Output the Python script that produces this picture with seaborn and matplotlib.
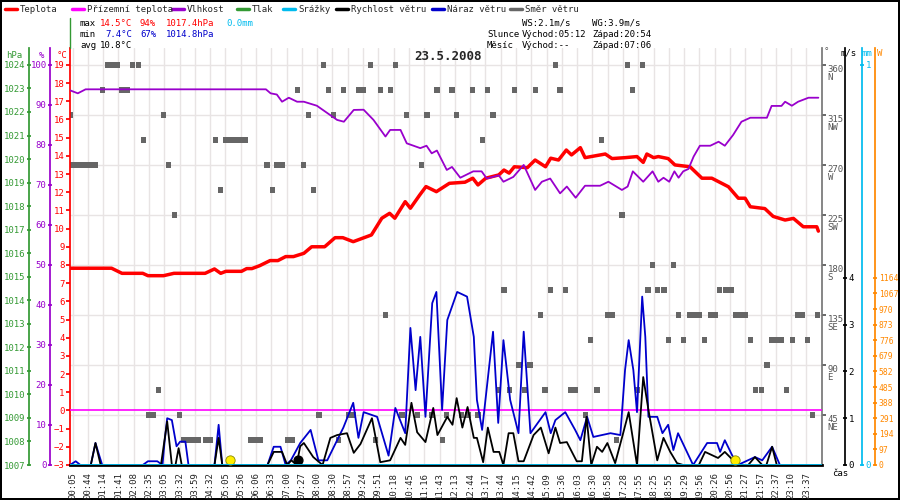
import matplotlib
matplotlib.use('Agg')
import matplotlib.pyplot as plt
from matplotlib.lines import Line2D
import seaborn as sns
import numpy as np

# ---- data (minutes since midnight) ----
temp_t = [1, 80, 100, 140, 150, 180, 200, 260, 278, 290, 300, 330, 340, 350, 365, 385, 400, 415, 430, 450,
          465, 490, 510, 525, 545, 580, 600, 615, 625, 645, 655, 673, 685, 705, 730, 760, 775, 785, 800, 825,
          835, 845, 855, 880, 895, 915, 925, 940, 955, 965, 982, 991, 1030, 1043, 1068, 1091, 1103, 1110, 1123,
          1132, 1151, 1164, 1193, 1216, 1235, 1267, 1286, 1299, 1309, 1337, 1353, 1376, 1392, 1411, 1437, 1440]
temp_v = [7.82, 7.82, 7.54, 7.54, 7.41, 7.41, 7.54, 7.54, 7.78, 7.54, 7.65, 7.65, 7.8, 7.8, 7.96, 8.24, 8.24,
          8.46, 8.46, 8.64, 9.0, 9.0, 9.5, 9.5, 9.28, 9.65, 10.57, 10.84, 10.57, 11.48, 11.12, 11.85, 12.31,
          12.03, 12.49, 12.55, 12.77, 12.4, 12.77, 12.95, 13.22, 13.05, 13.4, 13.35, 13.77, 13.4, 13.87, 13.77,
          14.32, 14.05, 14.45, 13.9, 14.1, 13.85, 13.9, 13.96, 13.64, 14.1, 13.9, 13.96, 13.85, 13.5, 13.4,
          12.77, 12.77, 12.3, 11.67, 11.67, 11.2, 11.1, 10.67, 10.47, 10.56, 10.1, 10.1, 9.86]

hum_t = [1, 15, 30, 377, 386, 398, 408, 421, 437, 450, 475, 514, 527, 546, 565, 584, 607, 616, 636, 648, 674,
         686, 696, 706, 725, 735, 751, 776, 792, 802, 825, 834, 853, 873, 895, 908, 924, 943, 956, 973, 991,
         1020, 1036, 1062, 1073, 1083, 1103, 1121, 1132, 1142, 1153, 1163, 1171, 1180, 1190, 1200, 1212, 1232,
         1248, 1260, 1276, 1292, 1309, 1341, 1350, 1369, 1376, 1389, 1401, 1421, 1440]
hum_v = [93.6, 92.9, 93.9, 93.9, 92.9, 92.6, 90.8, 91.8, 90.8, 90.8, 89.8, 86.25, 85.8, 88.75, 88.8, 86.25,
         82.1, 83.75, 83.75, 80.4, 79.2, 79.8, 77.9, 78.6, 73.75, 74.5, 71.8, 73.4, 73.4, 71.6, 72.4, 70.8,
         72.0, 75.0, 68.75, 70.8, 71.6, 67.9, 69.6, 66.8, 69.8, 69.8, 70.8, 68.75, 69.6, 73.4, 70.8, 73.4,
         70.8, 71.8, 70.8, 73.4, 71.8, 73.4, 74.0, 77.1, 79.8, 79.8, 80.8, 79.8, 82.5, 85.8, 86.8, 86.8, 89.75,
         89.75, 90.8, 89.8, 90.8, 91.8, 91.8]

speed_t = [0, 40, 49, 59, 175, 187, 196, 203, 209, 215, 278, 286, 293, 380, 392, 408, 418, 426, 436, 443, 450,
           468, 486, 501, 514, 533, 546, 559, 581, 597, 616, 636, 645, 657, 668, 684, 699, 707, 726, 736, 744,
           755, 765, 777, 783, 795, 804, 815, 826, 834, 844, 853, 863, 873, 892, 906, 921, 934, 943, 956, 975,
           985, 994, 1003, 1014, 1024, 1034, 1049, 1062, 1075, 1091, 1103, 1113, 1130, 1142, 1155, 1168, 1180,
           1210, 1222, 1247, 1260, 1276, 1285, 1305, 1318, 1332, 1340, 1351, 1360, 1440]
speed_v = [0, 0, 0.47, 0, 0, 0.93, 0, 0, 0.36, 0, 0, 0.58, 0, 0, 0.28, 0.28, 0, 0.1, 0, 0.4, 0.47, 0.17, 0,
           0.58, 0.64, 0.68, 0.26, 0.45, 1.0, 0.06, 0.1, 0.58, 0.43, 1.33, 0.7, 0.49, 1.22, 0.64, 1.03, 0.86,
           1.43, 0.8, 1.24, 0.58, 0.58, 0.06, 0.8, 0.28, 0.28, 0, 0.68, 0.68, 0.08, 0.08, 0.64, 0.8, 0.25, 0.8,
           0.47, 0.49, 0.08, 0.08, 1.03, 0, 0.39, 0.28, 0.47, 0.04, 0.58, 1.13, 0, 1.88, 1.18, 0.1, 0.58, 0.28,
           0.04, 0, 0, 0.28, 0.15, 0.28, 0.1, 0, 0, 0.17, 0, 0, 0.39, 0, 0]

gust_t = [0, 11, 20, 40, 49, 55, 62, 140, 150, 168, 178, 182, 187, 196, 205, 212, 222, 228, 278, 286, 293, 380,
          392, 405, 415, 425, 443, 463, 478, 495, 526, 545, 555, 565, 591, 613, 626, 645, 655, 665, 674, 684,
          697, 705, 716, 726, 745, 764, 777, 783, 793, 814, 824, 834, 847, 863, 873, 886, 915, 925, 934, 953,
          972, 982, 995, 1007, 1040, 1059, 1068, 1075, 1084, 1091, 1101, 1107, 1113, 1130, 1140, 1151, 1161,
          1170, 1199, 1226, 1245, 1251, 1260, 1274, 1285, 1318, 1332, 1351, 1366, 1440]
gust_v = [0, 0.08, 0, 0, 0.47, 0.25, 0, 0, 0.08, 0.08, 0, 0.5, 1.0, 0.96, 0.4, 0.5, 0.5, 0, 0, 0.86, 0, 0, 0.39,
          0.39, 0, 0.1, 0.47, 0.75, 0.1, 0.1, 0.8, 1.33, 0.58, 1.13, 1.03, 0.2, 1.22, 0.68, 2.93, 1.6, 2.74,
          1.03, 3.46, 3.7, 1.18, 3.1, 3.7, 3.6, 2.74, 1.39, 0.75, 2.85, 0.9, 2.67, 1.39, 0.68, 2.85, 0.68, 1.13,
          0.68, 0.96, 1.13, 0.75, 0.53, 1.03, 0.6, 0.68, 0.64, 2.03, 2.67, 2.03, 1.13, 3.6, 2.74, 1.03, 1.03,
          0.68, 0.86, 0.32, 0.68, 0, 0.47, 0.47, 0.28, 0.53, 0.21, 0, 0.17, 0.1, 0.39, 0, 0]

dir_t = [1, 4, 11, 20, 30, 39, 49, 62, 72, 81, 91, 100, 110, 120, 132, 142, 152, 161, 171, 180, 190, 201, 211,
         219, 229, 238, 248, 261, 270, 280, 289, 299, 309, 318, 328, 338, 347, 357, 366, 379, 389, 398, 408,
         418, 427, 437, 450, 459, 469, 479, 488, 498, 507, 517, 527, 536, 546, 555, 565, 578, 588, 597, 607,
         616, 626, 639, 648, 668, 677, 687, 696, 706, 716, 725,
         735, 744, 754, 766, 775, 785, 794, 804, 814, 825, 835, 845, 855, 864, 874, 885, 895, 905, 914, 924,
         934, 943, 954, 964, 973, 992, 1002, 1014, 1023, 1034, 1043, 1052, 1062, 1073, 1083, 1092, 1102,
         1112, 1121, 1131, 1143, 1152, 1162, 1171, 1181, 1192, 1202, 1212, 1221, 1232, 1241, 1250, 1261,
         1272, 1281, 1291, 1300, 1310, 1319, 1331, 1341, 1350, 1360, 1369, 1379, 1391, 1400, 1410, 1419,
         1429, 1439]
dir_v = [315, 270, 270, 270, 270, 270, 270, 337.5, 360, 360, 360, 337.5, 337.5, 360, 360, 292.5, 45, 45, 67.5,
         315, 270, 225, 45, 22.5, 22.5, 22.5, 22.5, 22.5, 22.5, 292.5, 247.5, 292.5, 292.5, 292.5, 292.5,
         292.5, 22.5, 22.5, 22.5, 270, 247.5, 270, 270, 22.5, 22.5, 337.5, 270, 315, 247.5, 45, 360, 337.5,
         315, 22.5, 337.5, 45, 45, 337.5, 337.5, 360, 22.5, 337.5, 135, 337.5, 360, 45, 315, 45, 270, 315,
         45, 337.5, 22.5, 45,
         337.5, 315, 45, 45, 337.5, 45, 292.5, 337.5, 315, 67.5, 157.5, 67.5, 337.5, 90, 67.5, 90, 337.5,
         135, 67.5, 157.5, 360, 337.5, 157.5, 67.5, 67.5, 45, 112.5, 67.5, 292.5, 135, 135, 22.5, 225, 360,
         337.5, 67.5, 360, 157.5, 180, 157.5, 157.5, 112.5, 180, 135, 112.5, 135, 135, 135, 112.5, 135, 135,
         157.5, 157.5, 157.5, 135, 135, 135, 112.5, 67.5, 67.5, 90, 112.5, 112.5, 112.5, 67.5, 112.5, 135,
         135, 112.5, 45, 135]

sun_t = [307, 1280]
moon_t = [438]

tick_labels = ['00:05', '00:44', '01:14', '01:41', '02:08', '02:35', '03:05', '03:32', '03:59', '04:32',
               '05:05', '05:36', '06:06', '06:33', '07:00', '07:27', '08:00', '08:30', '08:57', '09:24',
               '09:51', '10:18', '10:45', '11:16', '11:43', '12:13', '12:44', '13:17', '13:44', '14:15',
               '14:42', '15:09', '15:36', '16:03', '16:30', '16:58', '17:28', '17:55', '18:25', '18:55',
               '19:29', '19:56', '20:26', '20:56', '21:27', '21:57', '22:37', '23:10', '23:37']
dir_names = ['NE', 'E', 'SE', 'S', 'SW', 'W', 'NW', 'N']
w_ticks = [0, 97, 194, 291, 388, 485, 582, 679, 776, 873, 970, 1067, 1164]

RED, PINK, PURPLE, GREEN = '#ff0000', '#ff00ff', '#9900cc', '#339933'
CYAN, BLACK, BLUE, GRAY, ORANGE = '#00bbee', '#000000', '#0000cc', '#666666', '#ff8800'
FS = 6.5

sns.set_theme(style='white')
plt.rcParams['font.family'] = ['DejaVu Sans Mono', 'DejaVu Sans']
plt.rcParams['font.size'] = FS
plt.rcParams['xtick.labelsize'] = FS
plt.rcParams['ytick.labelsize'] = FS

fig = plt.figure(figsize=(9, 5), dpi=100)
fig.patch.set_edgecolor('black')
fig.patch.set_linewidth(1.5)
ax = fig.add_axes([70 / 900, 35 / 500, 752 / 900, 417 / 500])

T0, T1 = -3, 19.93
span = T1 - T0
X0, X1 = 0, 1447

# direction axis (shares grid)
axd = ax.twinx()
axd.set_ylim(0, span / 22 * 360)
dir_ticks = [45, 90, 135, 180, 225, 270, 315, 360]
axd.set_yticks(dir_ticks)
axd.set_yticklabels([f'{d}\n{n}' for d, n in zip(dir_ticks, dir_names)],
                    color='#555555', fontsize=FS, linespacing=0.9, va='top')
axd.tick_params(axis='y', direction='out', length=3, pad=1, color='#555555', labelsize=FS)
for s in ['top', 'left', 'bottom']:
    axd.spines[s].set_visible(False)
axd.spines['right'].set_color('#777777')
axd.grid(True, axis='y', color='#e8e4e4', lw=1)
axd.set_zorder(0)

ax.set_zorder(1)
ax.patch.set_visible(False)
ax.set_xlim(X0, X1)
ax.set_ylim(T0, T1)
xpos = np.linspace(5, 1417, len(tick_labels))
ax.set_xticks(xpos)
ax.set_xticklabels(tick_labels, rotation=90, fontsize=FS)
for x in xpos:
    axd.axvline(x, color='#e8e4e4', lw=1, zorder=0)
ax.set_yticks(range(-3, 20))
ax.tick_params(axis='y', colors=RED, length=3, pad=1, direction='out', labelsize=FS)
ax.tick_params(axis='x', length=3, pad=2, direction='out', labelsize=FS)
ax.spines['left'].set_color(RED)
ax.spines['bottom'].set_color('black')
ax.spines['bottom'].set_linewidth(2)
for s in ['top', 'right']:
    ax.spines[s].set_visible(False)

# wind direction squares
sns.scatterplot(x=dir_t, y=dir_v, ax=axd, marker='s', s=14, color=GRAY, edgecolor='none', zorder=2)

# temperature, ground temperature
ax.axhline(0, color=PINK, lw=1.2, zorder=3)
sns.lineplot(x=temp_t, y=temp_v, ax=ax, color=RED, lw=2.5, zorder=5)

def side_axis(outward, side, lim, ticks, color, fs=FS):
    a = ax.twinx()
    a.set_ylim(*lim)
    a.yaxis.set_ticks_position(side)
    a.spines[side].set_position(('outward', outward))
    for s in ['top', 'bottom', 'left', 'right']:
        a.spines[s].set_visible(s == side)
    a.spines[side].set_color(color)
    a.set_yticks(ticks)
    a.tick_params(axis='y', colors=color, length=3, pad=1, direction='inout', labelsize=fs)
    a.patch.set_visible(False)
    return a

axh = side_axis(14.4, 'left', (0, span / 0.22), range(0, 101, 10), PURPLE)
axp = side_axis(29.5, 'left', (1007, 1007 + span * 17 / 22), range(1007, 1025), GREEN)
axw = side_axis(16.6, 'right', (0, span / 2.572), range(0, 5), BLACK)
axm = side_axis(28.8, 'right', (0, span / 22), [0, 1], CYAN)
axW = side_axis(38.5, 'right', (0, span / 2.572 / 4 * 1164), w_ticks, ORANGE, fs=5.8)
for a in [axh, axp, axw, axm, axW]:
    a.set_zorder(1)

sns.lineplot(x=hum_t, y=hum_v, ax=axh, color=PURPLE, lw=1.3, zorder=4)
sns.lineplot(x=gust_t, y=gust_v, ax=axw, color=BLUE, lw=1.3, zorder=4)
sns.lineplot(x=speed_t, y=speed_v, ax=axw, color=BLACK, lw=1.3, zorder=5)
axm.axhline(0, color=CYAN, lw=2, zorder=3)
axw.scatter(sun_t, [0.1] * len(sun_t), s=45, color='#ffee00', edgecolor='#888800', lw=0.6, zorder=6)
axw.scatter(moon_t, [0.1], s=40, color='black', zorder=6)
for a in [axh, axp, axw, axm, axW]:
    a.set_xlim(X0, X1)
    a.set_xlabel('')
    a.set_ylabel('')
ax.set_xlabel('')
ax.set_ylabel('')

# axis unit labels
fig.text(14 / 900, 1 - 55 / 500, 'hPa', color=GREEN, ha='center', va='center')
fig.text(42 / 900, 1 - 55 / 500, '%', color=PURPLE, ha='center', va='center')
fig.text(62 / 900, 1 - 55 / 500, '°C', color=RED, ha='center', va='center')
fig.text(826 / 900, 1 - 52 / 500, '°', color='#555555', ha='center', va='center')
fig.text(849 / 900, 1 - 53 / 500, 'm/s', color=BLACK, ha='center', va='center')
fig.text(867 / 900, 1 - 53 / 500, 'mm', color=CYAN, ha='center', va='center')
fig.text(880 / 900, 1 - 53 / 500, 'W', color=ORANGE, ha='center', va='center')
fig.text(840 / 900, 1 - 474 / 500, 'čas', color=BLACK, ha='center', va='center')
fig.text(448 / 900, 1 - 57 / 500, '23.5.2008', fontsize=9, fontweight='bold', ha='center', va='center')

# legend row
legend_items = [('Teplota', RED, 5), ('Přízemní teplota', PINK, 72), ('Vlhkost', PURPLE, 172),
                ('Tlak', GREEN, 237), ('Srážky', CYAN, 283), ('Rychlost větru', BLACK, 336),
                ('Náraz větru', BLUE, 432), ('Směr větru', GRAY, 510)]
for name, col, x in legend_items:
    fig.add_artist(Line2D([x / 900, (x + 12) / 900], [1 - 9 / 500] * 2, color=col, lw=2.5))
    fig.text((x + 15) / 900, 1 - 9 / 500, name, va='center', fontsize=FS)
fig.add_artist(Line2D([70 / 900, 70 / 900], [1 - 18 / 500, 1 - 48 / 500], color=GREEN, lw=1))

# stats block
def row(y, parts):
    for txt, col, x in parts:
        fig.text(x / 900, 1 - y / 500, txt, color=col, va='center', fontsize=FS)

row(23, [('max', BLACK, 80), ('14.5°C', RED, 100), ('94%', RED, 140), ('1017.4hPa', RED, 166), ('0.0mm', CYAN, 226)])
row(34, [('min', BLACK, 80), ('7.4°C', BLUE, 105), ('67%', BLUE, 140), ('1014.8hPa', BLUE, 166)])
row(45, [('avg', BLACK, 80), ('10.8°C', BLACK, 100)])
row(23, [('WS:2.1m/s', BLACK, 522), ('WG:3.9m/s', BLACK, 592)])
row(34, [('Slunce', BLACK, 487), ('Východ:05:12', BLACK, 522), ('Západ:20:54', BLACK, 592)])
row(45, [('Měsíc', BLACK, 487), ('Východ:--', BLACK, 522), ('Západ:07:06', BLACK, 592)])

fig.savefig('out.png', dpi=100)
